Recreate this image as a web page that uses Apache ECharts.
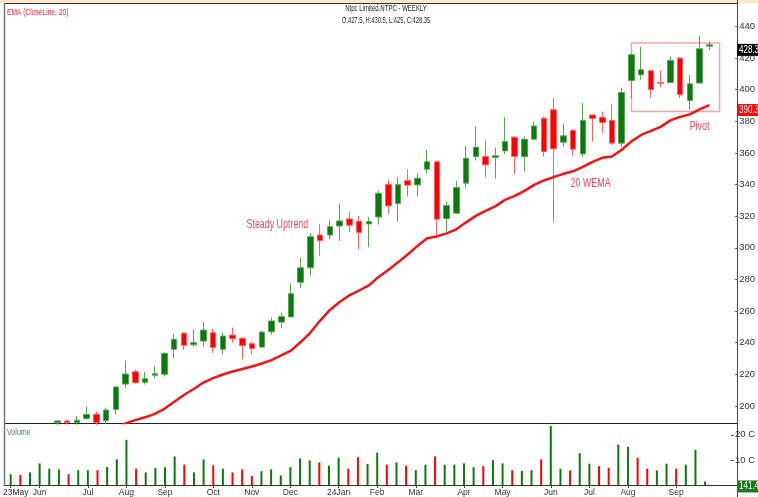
<!DOCTYPE html>
<html lang="en">
<head>
<meta charset="UTF-8" />
<title>NTPC weekly</title>
<script src="https://cdn.jsdelivr.net/npm/echarts@6/dist/echarts.min.js"></script>
<style>
  html, body { margin: 0; padding: 0; background: #fff; }
  #chart { width: 758px; height: 497px; }
</style>
</head>
<body>
<div id="chart"></div>
<script>
// weekly bars, first week starts Mon 8 May 2023
var firstWeek = Date.UTC(2023, 4, 8);
var weekCount = 73;

// [open, close, low, high]
var ohlc = [
  [178, 180, 176, 182.5], [181, 178.5, 177, 182], [179, 182, 178, 183.5], [182, 185.5, 181, 187.5],
  [185.5, 187.5, 184, 188.5], [189.3, 190.5, 188, 191], [190.5, 189.5, 188, 191], [189.5, 191, 188, 193.5],
  [192, 194.6, 191, 199.5], [194.8, 189.5, 188, 196.3], [190.6, 197.4, 188.5, 199], [197.8, 212, 194.5, 212.5],
  [213.8, 220.2, 211.5, 228.6], [221.6, 214.6, 214, 223], [215, 217.2, 213.5, 221.5], [219.4, 220.3, 217.5, 225],
  [220, 233.3, 218.5, 234], [235.8, 242.1, 230, 245.5], [246, 238.3, 235.5, 246.7], [238.7, 240, 237.5, 248.5],
  [241, 248, 237.5, 253.3], [246.3, 237, 233.5, 248.7], [235.8, 244.2, 232.8, 246.3], [244.8, 242.5, 240, 249.5],
  [242.8, 238.1, 229.5, 243.5], [239.4, 236.2, 232.8, 240.6], [237.2, 246.7, 236.8, 247.5], [246.9, 253.7, 245, 256],
  [253, 256.5, 249, 259], [256.3, 271, 256, 277.6], [278.2, 287.4, 274.6, 294], [287.4, 307, 282.4, 309.2],
  [308.1, 304.5, 295, 315], [308.1, 313.4, 305.6, 317.2], [313.8, 317, 304.4, 327.8], [318.3, 314.3, 310, 323],
  [316.8, 309.6, 299, 320.2], [315.1, 316.6, 300.4, 319.3], [319.5, 334.5, 314.7, 336], [340, 326.5, 321.4, 343],
  [328, 340, 316.6, 344.7], [342.5, 339.6, 332.4, 349.7], [339.8, 344, 332.8, 347.2], [349.7, 354.4, 347.2, 362],
  [354.4, 318.1, 307.7, 355.2], [318.5, 326.7, 310.2, 329.2], [321.9, 338.1, 321.5, 342.3], [340.9, 356.7, 338, 364.7],
  [357.7, 363.6, 355.2, 376.7], [357.7, 352.5, 344.7, 368.3], [357.1, 358.2, 343.6, 363.4], [361.3, 367.2, 359.2, 382.6],
  [370, 357.7, 346.6, 370.8], [357.7, 368.7, 348.3, 370.4], [368.7, 377.1, 368, 380], [382, 360.9, 357.7, 383],
  [387.3, 362.6, 316, 395], [366.8, 370.8, 364, 378.4], [374.2, 362.4, 358.2, 375], [359.4, 380.5, 357.3, 391.5],
  [384, 381.8, 367.2, 384.5], [382.6, 379.2, 372.5, 386.2], [380.5, 366.2, 365, 391], [366.2, 398.2, 363.7, 401],
  [405.8, 422.1, 394.7, 423], [409.4, 412.6, 406.3, 427.3], [412, 400, 395, 412.5], [404.6, 404, 401.6, 412.2],
  [404.6, 418.5, 404, 421], [420, 396.8, 394.7, 420.5], [393.2, 403.7, 387.3, 409.4], [404.2, 425.9, 404, 434],
  [427.5, 428.35, 425, 430.5]
];

// 20 week EMA of close
var ema20 = [
  172, 173, 174, 175, 175.8, 176.5, 177.7, 179, 180.5, 181.4, 182.9, 185.7,
  189, 191, 192.8, 195, 198.2, 202.6, 206.9, 210.7, 214.8, 217.6, 219.9, 221.8,
  223.3, 224.9, 226.8, 229, 231.9, 235, 240.4, 246.4, 254, 260.7, 265.7, 269.9,
  273, 276.2, 281.6, 286, 290.8, 295.8, 301.2, 306, 307.2, 309.1, 311.7, 316.1,
  320.2, 323.3, 326.2, 330.3, 332.8, 336, 339.8, 342.6, 344.7, 346.8, 348.4, 351.2,
  354.4, 356.9, 357.8, 362, 367.3, 371.4, 374, 376.5, 380.6, 382.8, 384.4, 387.5,
  390.3
];

// volume in crore
var volume = [
  4.3, 4.0, 5.0, 8.6, 6.5, 6.2, 4.3, 5.9, 5.9, 5.9, 7.2, 10.2,
  18.0, 6.5, 5.0, 6.8, 7.1, 11.4, 8.1, 5.0, 10.2, 7.8, 6.5, 5.0,
  6.2, 3.6, 5.5, 6.2, 3.8, 7.1, 10.5, 9.8, 9.0, 7.7, 10.9, 6.5,
  11.1, 8.4, 12.9, 8.1, 9.0, 7.7, 5.9, 8.1, 11.4, 8.1, 8.1, 8.6,
  7.1, 7.5, 9.9, 8.6, 5.9, 5.6, 5.9, 10.2, 23.5, 6.5, 5.8, 12.7,
  8.5, 7.5, 6.9, 16.1, 15.2, 10.9, 6.5, 5.8, 8.5, 6.5, 8.1, 14.0,
  1.414
];

var monthTicks = [
  [0, '23May'], [3, 'Jun'], [8, 'Jul'], [12, 'Aug'], [16, 'Sep'], [21, 'Oct'],
  [25, 'Nov'], [29, 'Dec'], [34, '24Jan'], [38, 'Feb'], [42, 'Mar'], [47, 'Apr'],
  [51, 'May'], [56, 'Jun'], [60, 'Jul'], [64, 'Aug'], [69, 'Sep']
];
var priceTicks = [200, 220, 240, 260, 280, 300, 320, 340, 360, 380, 400, 420, 440];
var volTicks = [10, 20];

// annotation text anchored at [week index, price]
var notes = [
  { text: 'Steady Uptrend', at: [27.6, 314.5] },
  { text: '20 WEMA', at: [59.8, 340.4] },
  { text: 'Pivot', at: [71, 376.7] }
];

var weeks = [];
for (var w = 0; w < weekCount; w++) {
  weeks.push(new Date(firstWeek + w * 7 * 864e5).toISOString().slice(0, 10));
}
var tickName = {};
monthTicks.forEach(function (t) { tickName[t[0]] = t[1]; });
function isTick(i) { return tickName[i] !== undefined; }

var GREEN = '#0b7a0b';
var RED = '#ff0000';
var FONT = "'Liberation Sans', Arial, sans-serif";

var volData = volume.map(function (v, i) {
  var up = i === 0 || ohlc[i][1] >= ohlc[i - 1][1];
  return { value: v, itemStyle: { color: up ? GREEN : RED } };
});

var chart = echarts.init(document.getElementById('chart'));

chart.setOption({
  animation: false,
  backgroundColor: '#fff',
  grid: [
    { left: 4, right: 42, top: 4, height: 419 },
    { left: 4, right: 42, top: 424, height: 61 }
  ],
  xAxis: [
    {
      type: 'category', gridIndex: 0, data: weeks,
      axisLine: { show: false }, axisTick: { show: false }, axisLabel: { show: false }
    },
    {
      type: 'category', gridIndex: 1, data: weeks,
      axisLine: { show: false },
      axisTick: { show: true, interval: isTick, alignWithLabel: true, length: 3, lineStyle: { color: '#444' } },
      axisLabel: {
        interval: isTick, showMinLabel: true, fontSize: 8.5, color: '#333', margin: 3, fontFamily: FONT,
        formatter: function (v, i) {
          return i === 0 ? '{first|' + tickName[i] + '}' : (tickName[i] || '');
        },
        rich: { first: { fontSize: 8.5, color: '#333', padding: [0, 0, 0, 10] } }
      }
    }
  ],
  yAxis: [
    {
      type: 'value', gridIndex: 0, position: 'right', offset: 21, min: 189.2, max: 454.2,
      splitLine: { show: false }, axisLine: { show: false },
      axisTick: { show: true, length: 3, customValues: priceTicks, lineStyle: { color: '#555' } },
      axisLabel: { customValues: priceTicks, fontSize: 9.5, color: '#333', margin: 4, fontFamily: FONT }
    },
    {
      type: 'value', gridIndex: 1, position: 'right', offset: 21, min: 0, max: 24.3,
      splitLine: { show: false }, axisLine: { show: false },
      axisTick: { show: true, length: 3, customValues: volTicks, lineStyle: { color: '#555' } },
      axisLabel: {
        customValues: volTicks, fontSize: 9.5, color: '#333', margin: 4, fontFamily: FONT,
        formatter: function (v) { return v + ' C'; }
      }
    }
  ],
  series: [
    {
      type: 'candlestick', xAxisIndex: 0, yAxisIndex: 0, data: ohlc, barWidth: 6,
      itemStyle: { color: GREEN, color0: RED, borderColor: '#55a555', borderColor0: '#ff6262', borderWidth: 1 }
    },
    {
      type: 'line', xAxisIndex: 0, yAxisIndex: 0, data: ema20, symbol: 'none',
      lineStyle: { color: '#f01414', width: 2.5 }
    },
    {
      type: 'bar', xAxisIndex: 1, yAxisIndex: 1, data: volData, barWidth: 2
    }
  ]
});

// pixel of a (possibly fractional) week index and price
function toPx(idx, price) {
  var lo = Math.floor(idx), hi = Math.ceil(idx);
  var a = chart.convertToPixel({ gridIndex: 0 }, [lo, price]);
  var b = chart.convertToPixel({ gridIndex: 0 }, [hi, price]);
  return [a[0] + (b[0] - a[0]) * (idx - lo), a[1]];
}

// frame, captions and price tags
function overlay() {
  var g = [];
  g.push({ type: 'rect', shape: { x: 0, y: 0, width: 758, height: 3 }, style: { fill: '#fbe8c8' } });
  g.push({ type: 'line', shape: { x1: 4, y1: 3.5, x2: 737, y2: 3.5 }, style: { stroke: '#333', lineWidth: 1 } });
  g.push({ type: 'line', shape: { x1: 4, y1: 423.5, x2: 737, y2: 423.5 }, style: { stroke: '#222', lineWidth: 1.2 } });
  g.push({ type: 'line', shape: { x1: 4, y1: 485.5, x2: 737, y2: 485.5 }, style: { stroke: '#333', lineWidth: 1 } });
  g.push({ type: 'line', shape: { x1: 4.5, y1: 3, x2: 4.5, y2: 486 }, style: { stroke: '#777', lineWidth: 1.5 } });
  g.push({ type: 'line', shape: { x1: 737.5, y1: 0, x2: 737.5, y2: 497 }, style: { stroke: '#5c3a58', lineWidth: 1 } });

  function caption(text, x, y, size, color, sx, align) {
    g.push({
      type: 'text', x: x, y: y, scaleX: sx,
      style: { text: text, fill: color, fontSize: size, fontFamily: FONT, align: align || 'left', verticalAlign: 'middle' }
    });
  }
  caption('EMA (CloseLine, 20)', 7, 12, 9.5, '#e8283a', 0.7);
  caption('Ntpc Limited.NTPC - WEEKLY', 386, 9, 8.5, '#222', 0.71, 'center');
  caption('O:427.5, H:430.5, L:425, C:428.35', 386, 21, 8.5, '#222', 0.68, 'center');
  caption('Volume', 7, 432, 9.5, '#3f8a3f', 0.75);

  notes.forEach(function (n) {
    var p = toPx(n.at[0], n.at[1]);
    caption(n.text, p[0], p[1], 12, '#f0485c', 0.74, 'center');
  });

  // consolidation box
  var a = toPx(64, 429.6);
  var b = toPx(72.9, 386.2);
  g.push({ type: 'rect', shape: { x: a[0], y: a[1], width: b[0] + 1.5 - a[0], height: b[1] - a[1] }, style: { fill: 'none', stroke: '#f6a5a5', lineWidth: 1.5 } });

  var tags = [
    { y: chart.convertToPixel({ yAxisIndex: 0 }, ohlc[ohlc.length - 1][1]), text: '428.3', bg: '#000' },
    { y: chart.convertToPixel({ yAxisIndex: 0 }, ema20[ema20.length - 1]), text: '390.3', bg: '#ff0000' },
    { y: chart.convertToPixel({ yAxisIndex: 1 }, volume[volume.length - 1]), text: '141.4', bg: '#1b7a1b' }
  ];
  tags.forEach(function (t) {
    g.push({ type: 'rect', z: 20, shape: { x: 737, y: t.y - 1, width: 21, height: 12 }, style: { fill: t.bg } });
    g.push({ type: 'text', z: 21, x: 739, y: t.y + 5, scaleX: 0.8, style: { text: t.text, fill: '#fff', fontSize: 10, fontFamily: FONT, verticalAlign: 'middle' } });
  });
  chart.setOption({ graphic: g });
}
overlay();
</script>
</body>
</html>
